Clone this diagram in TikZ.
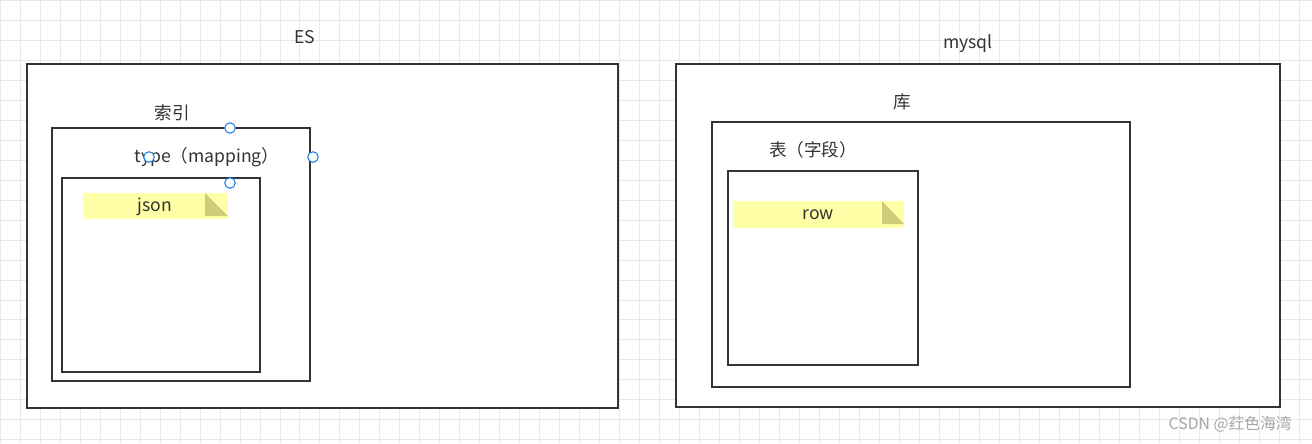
\documentclass[tikz,border=0pt]{standalone}
\usepackage{fontspec}
\setmainfont{Noto Sans CJK SC}
\usetikzlibrary{positioning}
\definecolor{gridc}{HTML}{E8E8E8}
\definecolor{inkc}{HTML}{333333}
\definecolor{notec}{HTML}{FFFFA8}
\definecolor{foldc}{HTML}{CFCC78}
\definecolor{handc}{HTML}{1A7FE8}
\begin{document}
\begin{tikzpicture}[
    x=0.02cm, y=-0.02cm,
    box/.style={draw=inkc, line width=1.3pt, fill=white},
    lbl/.style={text=inkc, font=\fontsize{10}{12}\selectfont},
    note/.style={fill=notec},
    fold/.style={fill=foldc},
    handle/.style={circle, draw=handc, fill=white, line width=0.6pt, inner sep=0pt, minimum size=6pt}
]
    % Background grid
    \useasboundingbox (0,0) rectangle (1312,443);
    \fill[white] (0,0) rectangle (1312,443);
    \draw[gridc, line width=0.5pt] (0,0) grid[step=0.4cm] (1312,443);

    % ES side
    \draw[box] (27,64) rectangle (618,408);
    \draw[box] (52,128) rectangle (310,381);
    \draw[box] (62,178) rectangle (260,372);
    \fill[note] (83,193) rectangle (228,219);
    \fill[fold] (205,193) -- (228,216) -- (205,216) -- cycle;
    \node[lbl] (es) at (305,37) {ES};
    \node[lbl] (idx) at (172,113) {索引};
    \node[lbl] (type) at (207,157) {type（mapping）};
    \node[lbl] (json) at (155,207) {json};

    % Selection handles
    \node[handle] (h1) at (230,128) {};
    \node[handle] (h2) at (149,157) {};
    \node[handle] (h3) at (313,157) {};
    \node[handle] (h4) at (230,183) {};

    % mysql side
    \draw[box] (676,64) rectangle (1280,407);
    \draw[box] (712,122) rectangle (1130,387);
    \draw[box] (728,171) rectangle (918,365);
    \fill[note] (733,201) rectangle (904,228);
    \fill[fold] (882,201) -- (904,224) -- (882,224) -- cycle;
    \node[lbl] (mysql) at (968,44) {mysql};
    \node[lbl] (db) at (902,102) {库};
    \node[lbl] (tbl) at (813,150) {表（字段）};
    \node[lbl] (row) at (818,215) {row};

    % Watermark
    \node[text=gray!70, font=\fontsize{9}{11}\selectfont, anchor=east] (wm) at (1298,424) {CSDN @荭色海湾};
\end{tikzpicture}
\end{document}
